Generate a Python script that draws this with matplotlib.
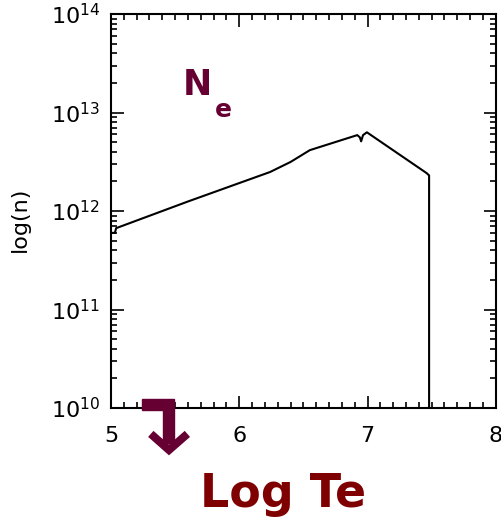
import matplotlib

matplotlib.use("Agg")
import matplotlib.pyplot as plt
from matplotlib.lines import Line2D
from matplotlib.patches import Polygon
from matplotlib.ticker import MultipleLocator, LogLocator, NullFormatter

# log Te vs electron density
log_te = [5.00, 5.03, 5.04, 5.60, 6.24, 6.40, 6.55, 6.92, 6.94, 6.95, 6.965, 6.995, 7.46, 7.48, 7.48]
n_e = [6.0e11, 6.0e11, 6.7e11, 1.25e12, 2.49e12, 3.15e12, 4.15e12, 5.9e12, 5.6e12, 5.1e12, 5.9e12, 6.3e12, 2.43e12, 2.3e12, 1.0e10]

x_ticks = [5, 6, 7, 8]
y_ticks = [1e10, 1e11, 1e12, 1e13, 1e14]
y_labels = [r"$10^{10}$", r"$10^{11}$", r"$10^{12}$", r"$10^{13}$", r"$10^{14}$"]

plt.rcParams["font.family"] = ["DejaVu Sans"]
plt.rcParams["mathtext.default"] = "regular"

fig = plt.figure(figsize=(5.01, 5.19), dpi=100)
ax = fig.add_axes([0.2216, 0.2139, 0.768, 0.759])

ax.plot(log_te, n_e, color="black", linewidth=1.5)
ax.set_yscale("log")
ax.set_xlim(5, 8)
ax.set_ylim(1e10, 1e14)

ax.set_xticks(x_ticks)
ax.xaxis.set_minor_locator(MultipleLocator(0.1))
ax.set_yticks(y_ticks)
ax.set_yticklabels(y_labels)
ax.yaxis.set_minor_locator(LogLocator(base=10, subs=range(2, 10)))
ax.yaxis.set_minor_formatter(NullFormatter())

ax.tick_params(which="both", direction="in", top=True, right=True, width=1.2, colors="black")
ax.tick_params(which="major", length=9, labelsize=16)
ax.tick_params(axis="x", which="major", pad=13)
ax.tick_params(axis="y", which="major", pad=8)
ax.tick_params(which="minor", length=4)
for s in ax.spines.values():
    s.set_linewidth(1.5)

ax.set_ylabel("log(n)", fontsize=16)
ax.yaxis.set_label_coords(-0.212, 0.48)

ne_col = "#660033"
fig.text(0.365, 0.816, "N", fontsize=25, fontweight="bold", color=ne_col, ha="left", va="baseline")
fig.text(0.429, 0.7746, "e", fontsize=18, fontweight="bold", color=ne_col, ha="left", va="baseline")

fig.text(0.399, 0.0231, "Log Te", fontsize=33, fontweight="bold", color="#7f0000",
         ha="left", va="baseline")

# bent arrow below the axis
fig.add_artist(Polygon(
    [(0.2834, 0.2312), (0.3473, 0.2312), (0.3473, 0.146), (0.3253, 0.146), (0.3253, 0.2100), (0.2834, 0.2100)],
    closed=True, transform=fig.transFigure, color=ne_col, zorder=5))
fig.add_artist(Line2D([0.301, 0.3373, 0.374], [0.164, 0.133, 0.164], transform=fig.transFigure,
                      color=ne_col, linewidth=5.8, solid_capstyle="butt", solid_joinstyle="miter",
                      zorder=5))

fig.savefig("out.png", dpi=100)
